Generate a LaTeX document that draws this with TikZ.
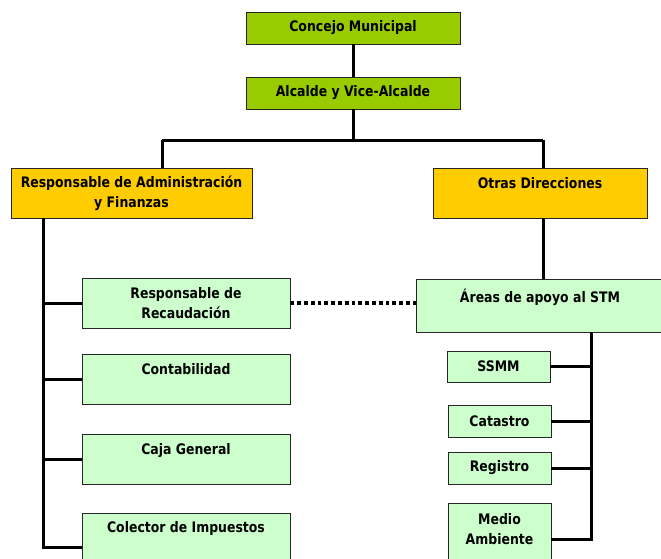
\documentclass[tikz,border=0pt]{standalone}
\usepackage{fontspec}
\setmainfont{DejaVu Sans}[FakeStretch=0.86]
\usetikzlibrary{shadows}
\definecolor{topgreen}{HTML}{99CC00}
\definecolor{gold}{HTML}{FFCC00}
\definecolor{lightgreen}{HTML}{CCFFCC}
\begin{document}
\begin{tikzpicture}[x=1pt,y=-1pt,
  box/.style={draw=black!85, line width=0.8pt, inner sep=0pt, align=center,
    font=\bfseries\fontsize{14.5}{20}\selectfont,
    drop shadow={shadow xshift=1.3pt,shadow yshift=-1.3pt,fill=black!35,opacity=1}},
  topbox/.style={box, fill=topgreen},
  midbox/.style={box, fill=gold},
  subbox/.style={box, fill=lightgreen},
  conn/.style={line width=3pt, black},
  dotline/.style={line width=3.8pt, black, dash pattern=on 3.8pt off 3pt}]
\useasboundingbox (0,0) rectangle (661,558);
\clip (0,0) rectangle (661,558);
% top
\node[topbox, minimum width=214pt, minimum height=32pt] (cm) at (353,28) {Concejo Municipal};
\node[topbox, minimum width=214pt, minimum height=32pt] (alc) at (353,93) {Alcalde y Vice-Alcalde};
% directions
\node[midbox, minimum width=241pt, minimum height=50pt] (adm) at (131.5,193) {Responsable de Administración\\y Finanzas};
\node[midbox, minimum width=214pt, minimum height=50pt] (otr) at (540,193) {Otras Direcciones\\\mbox{}};
% left column
\node[subbox, minimum width=208pt, minimum height=50pt] (rec) at (186,303) {Responsable de\\Recaudación};
\node[subbox, minimum width=208pt, minimum height=50pt] (con) at (186,379) {Contabilidad\\\mbox{}};
\node[subbox, minimum width=208pt, minimum height=50pt] (caj) at (186,459) {Caja General\\\mbox{}};
\node[subbox, minimum width=208pt, minimum height=68pt] (col) at (186,547) {Colector de Impuestos\\\mbox{}\\\mbox{}};
% right column
\node[subbox, minimum width=248pt, minimum height=53pt] (are) at (540,305.5) {Áreas de apoyo al STM\\\mbox{}};
\node[subbox, minimum width=103pt, minimum height=31pt] (ssmm) at (498.5,366.5) {SSMM};
\node[subbox, minimum width=103pt, minimum height=32pt] (cat) at (499.5,421) {Catastro};
\node[subbox, minimum width=103pt, minimum height=32pt] (reg) at (499.5,468) {Registro};
\node[subbox, minimum width=103pt, minimum height=72pt] (med) at (499.5,539) {Medio\\Ambiente\\\mbox{}};
% coordinates
\coordinate (bus) at (353,140);
\coordinate (busL) at (162,140);
\coordinate (busR) at (543,140);
\coordinate (spL) at (43,547);
\coordinate (spR) at (591,539);
% connectors
\draw[conn] (cm) -- (alc);
\draw[conn] (alc) -- (bus);
\draw[conn] (busL) -- (busR);
\draw[conn] (busL) -- (busL |- adm.north);
\draw[conn] (busR) -- (busR |- otr.north);
\draw[conn] (busR |- otr.south) -- (busR |- are.north);
\draw[conn] (spL |- adm.south) -- (spL) -- (col.west);
\draw[conn] (spL |- rec.west) -- (rec.west);
\draw[conn] (spL |- con.west) -- (con.west);
\draw[conn] (spL |- caj.west) -- (caj.west);
\draw[conn] (spR |- are.south) -- (spR) -- (med.east);
\draw[conn] (ssmm.east) -- (ssmm.east -| spR);
\draw[conn] (cat.east) -- (cat.east -| spR);
\draw[conn] (reg.east) -- (reg.east -| spR);
\draw[dotline] (rec.east) -- (rec.east -| are.west);
\end{tikzpicture}
\end{document}
